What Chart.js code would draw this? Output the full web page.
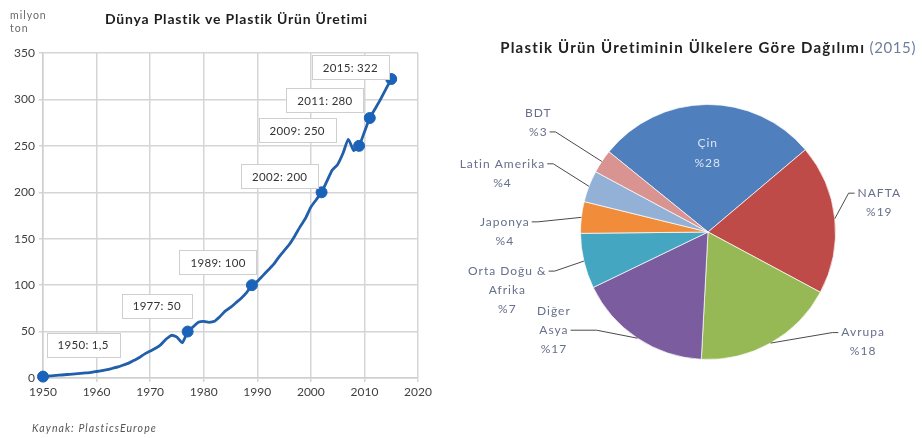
<!DOCTYPE html>
<html>
<head>
<meta charset="utf-8">
<script src="https://cdn.jsdelivr.net/npm/chart.js@4/dist/chart.umd.min.js"></script>
<style>
  html, body { margin: 0; padding: 0; background: #ffffff; }
  #wrap { position: relative; width: 922px; height: 438px; overflow: hidden; }
  #lineBox { position: absolute; left: 0; top: 0; width: 440px; height: 438px; }
  #pieBox { position: absolute; left: 440px; top: 0; width: 482px; height: 438px; }
</style>
</head>
<body>
<div id="wrap">
  <div id="lineBox"><canvas id="lineChart"></canvas></div>
  <div id="pieBox"><canvas id="pieChart"></canvas></div>
</div>
<script>
// ---- World plastics production (million tonnes), yearly ----
const years = [1950,1951,1952,1953,1954,1955,1956,1957,1958,1959,
               1960,1961,1962,1963,1964,1965,1966,1967,1968,1969,
               1970,1971,1972,1973,1974,1975,1976,1977,1978,1979,
               1980,1981,1982,1983,1984,1985,1986,1987,1988,1989,
               1990,1991,1992,1993,1994,1995,1996,1997,1998,1999,
               2000,2001,2002,2003,2004,2005,2006,2007,2008,2009,
               2010,2011,2012,2013,2014,2015];
const production = [1.5,2,2.5,3,3.5,4,4.5,5,5.5,6,
                    7,8,9,10.5,12,14,16,19,22,26,
                    29,32,36,42,46,44,38,50,55,60,
                    61,60,61,66,72,76,81,86,92,100,
                    104,110,116,122,130,137,144,153,163,172,
                    184,192,200,212,224,230,242,257,245,250,
                    265,280,290,300,311,322];

// highlighted milestones
const milestoneYears  = [1950, 1977, 1989, 2002, 2009, 2011, 2015];
const milestoneValues = [1.5, 50, 100, 200, 250, 280, 322];

const xTicks = [1950, 1960, 1970, 1980, 1990, 2000, 2010, 2020];
const yTicks = [0, 50, 100, 150, 200, 250, 300, 350];

// ---- 2015 production share by region (%) ----
const regions = ['Çin', 'NAFTA', 'Avrupa', 'Diğer\nAsya', 'Orta Doğu &\nAfrika', 'Japonya', 'Latin Amerika', 'BDT'];
const shares  = [28, 19, 18, 17, 7, 4, 4, 3];
const regionColors = ['#4f7fbc', '#bf4b48', '#96b955', '#7b5c9f', '#45a6c2', '#f08c3a', '#93b0d6', '#d99492'];

// label box placement relative to each milestone point (px)
const milestoneBoxOffsets = [[40, -32], [-31, -26], [-34, -23], [-42, -16], [-62, -16], [-45, -18], [-41, -12]];

// pie label placement relative to the slice's outer edge at mid-angle (px)
const pieLabelPlacement = [
  { inside: true, dist: 0.62 },
  { dx: 44,  dy: -16, line: 0, side: 'left' },
  { dx: 92,  dy: -1,  line: 0, side: 'left' },
  { dx: -84, dy: -8,  line: 1, side: 'right', elbow: 26 },
  { dx: -77, dy: 29,  line: 0, side: 'right' },
  { dx: -77, dy: 14,  line: 0, side: 'right' },
  { dx: -87, dy: -13, line: 0, side: 'right' },
  { dx: -64, dy: -39, line: 1, side: 'right' }
];

const FONT = 'Lato, "Open Sans", sans-serif';
const fmtTR = v => String(v).replace('.', ',');

// centred text that honours letter spacing (trailing gap removed)
function spacedText(ctx, txt, x, y, spacing, align) {
  ctx.letterSpacing = spacing + 'px';
  const w = ctx.measureText(txt).width - spacing;
  let left = x;
  if (align === 'center') left = x - w / 2;
  else if (align === 'right') left = x - w;
  ctx.textAlign = 'left';
  ctx.fillText(txt, left, y);
  ctx.letterSpacing = '0px';
  return { left, right: left + w, width: w };
}

// ---------- line chart ----------
const lineDecor = {
  id: 'lineDecor',
  afterDatasetsDraw(chart) {
    const ctx = chart.ctx;
    const xs = chart.scales.x, ys = chart.scales.y;
    ctx.save();
    ctx.font = '11.5px ' + FONT;
    ctx.textBaseline = 'middle';
    milestoneYears.forEach((yr, i) => {
      const px = xs.getPixelForValue(yr);
      const py = ys.getPixelForValue(milestoneValues[i]);
      const cx = px + milestoneBoxOffsets[i][0];
      const cy = py + milestoneBoxOffsets[i][1];
      const txt = yr + ': ' + fmtTR(milestoneValues[i]);
      ctx.letterSpacing = '0.3px';
      const w = Math.round(ctx.measureText(txt).width + 22);
      ctx.letterSpacing = '0px';
      const h = 24;
      const bx = Math.round(cx - w / 2) + 0.5, by = Math.round(cy - h / 2) + 0.5;
      ctx.fillStyle = '#ffffff';
      ctx.fillRect(bx, by, w, h);
      ctx.strokeStyle = '#cfcfcf';
      ctx.lineWidth = 1;
      ctx.strokeRect(bx, by, w, h);
      ctx.fillStyle = '#333333';
      spacedText(ctx, txt, cx, cy + 1, 0.3, 'center');
    });
    ctx.restore();
  },
  afterDraw(chart) {
    const ctx = chart.ctx;
    ctx.save();
    ctx.textBaseline = 'middle';
    ctx.fillStyle = '#1e1e1e';
    ctx.font = 'bold 14px ' + FONT;
    spacedText(ctx, 'Dünya Plastik ve Plastik Ürün Üretimi', 236, 19, 0.8, 'center');
    ctx.fillStyle = '#6a6a6a';
    ctx.font = '10.5px ' + FONT;
    spacedText(ctx, 'milyon', 10, 16, 1, 'left');
    spacedText(ctx, 'ton', 10, 29, 1, 'left');
    ctx.fillStyle = '#555555';
    ctx.font = 'italic 10.5px ' + FONT;
    spacedText(ctx, 'Kaynak: PlasticsEurope', 32, 429, 1.1, 'left');
    ctx.restore();
  }
};

new Chart(document.getElementById('lineChart'), {
  type: 'line',
  data: {
    datasets: [
      {
        data: years.map((y, i) => ({ x: y, y: production[i] })),
        borderColor: '#215fab',
        borderWidth: 2.8,
        pointRadius: 0,
        tension: 0.2,
        clip: false,
        order: 2
      },
      {
        type: 'scatter',
        data: milestoneYears.map((y, i) => ({ x: y, y: milestoneValues[i] })),
        backgroundColor: '#1b63b8',
        borderColor: '#1b63b8',
        pointRadius: 5.5,
        clip: false,
        order: 1
      }
    ]
  },
  options: {
    responsive: true,
    maintainAspectRatio: false,
    animation: false,
    events: [],
    layout: { padding: { left: 0, top: 53, right: 22, bottom: 38 } },
    plugins: { legend: { display: false }, tooltip: { enabled: false } },
    scales: {
      x: {
        type: 'linear', min: 1950, max: 2020,
        afterBuildTicks: s => { s.ticks = xTicks.map(v => ({ value: v })); },
        afterFit: s => { s.height = 22; },
        ticks: {
          color: '#404040', font: { family: FONT, size: 12 }, padding: 3,
          maxRotation: 0, autoSkip: false, callback: v => String(v)
        },
        grid: { color: '#d5d5d5', lineWidth: 1.5, tickLength: 4 },
        border: { color: '#cfcfcf', width: 1.5 }
      },
      y: {
        min: 0, max: 350,
        afterBuildTicks: s => { s.ticks = yTicks.map(v => ({ value: v })); },
        afterFit: s => { s.width = 43; },
        ticks: { color: '#404040', font: { family: FONT, size: 12 }, padding: 4, callback: v => String(v) },
        grid: { color: '#d5d5d5', lineWidth: 1.5, tickLength: 4 },
        border: { color: '#cfcfcf', width: 1.5 }
      }
    }
  },
  plugins: [lineDecor]
});

// ---------- pie chart ----------
const pieDecor = {
  id: 'pieDecor',
  afterDraw(chart) {
    const ctx = chart.ctx;
    ctx.save();
    ctx.textBaseline = 'middle';
    // title: bold part + lighter year suffix, right-aligned
    const t1 = 'Plastik Ürün Üretiminin Ülkelere Göre Dağılımı';
    const t2 = ' (2015)';
    ctx.font = '15px ' + FONT;
    ctx.letterSpacing = '0.6px';
    const w2 = ctx.measureText(t2).width;
    ctx.font = 'bold 15px ' + FONT;
    ctx.letterSpacing = '1.2px';
    const w1 = ctx.measureText(t1).width;
    const x0 = 476 - w1 - w2;
    ctx.fillStyle = '#222222';
    ctx.textAlign = 'left';
    ctx.fillText(t1, x0, 48);
    ctx.font = '15px ' + FONT;
    ctx.letterSpacing = '0.6px';
    ctx.fillStyle = '#6d7f9c';
    ctx.fillText(t2, x0 + w1, 48);
    ctx.letterSpacing = '0px';

    const meta = chart.getDatasetMeta(0);
    const lh = 19;
    const sp = 1;
    ctx.font = '12px ' + FONT;
    meta.data.forEach((arc, i) => {
      const p = pieLabelPlacement[i];
      const mid = (arc.startAngle + arc.endAngle) / 2;
      const lines = regions[i].split('\n').concat(['%' + shares[i]]);
      if (p.inside) {
        const cx = arc.x + Math.cos(mid) * arc.outerRadius * p.dist;
        const cy = arc.y + Math.sin(mid) * arc.outerRadius * p.dist;
        ctx.fillStyle = '#dbe5f3';
        lines.forEach((ln, k) => spacedText(ctx, ln, cx, cy + (k - (lines.length - 1) / 2) * (lh + 1), sp, 'center'));
        return;
      }
      const ex = arc.x + Math.cos(mid) * arc.outerRadius;
      const ey = arc.y + Math.sin(mid) * arc.outerRadius;
      const bx = ex + p.dx, by = ey + p.dy;
      ctx.fillStyle = '#66708a';
      const ys = lines.map((ln, k) => by + (k - (lines.length - 1) / 2) * lh);
      const boxes = lines.map((ln, k) => spacedText(ctx, ln, bx, ys[k], sp, 'center'));
      // leader line from the label to the slice edge
      const b = boxes[p.line];
      const ay = ys[p.line];
      const elbow = p.elbow || 6;
      let ax, elx;
      if (p.side === 'left') { ax = b.left - 3; elx = ax - elbow; }
      else { ax = b.right + 3; elx = ax + elbow; }
      ctx.strokeStyle = '#4a4a4a';
      ctx.lineWidth = 1;
      ctx.beginPath();
      ctx.moveTo(ax, ay);
      ctx.lineTo(elx, ay);
      ctx.lineTo(ex, ey);
      ctx.stroke();
    });
    ctx.restore();
  }
};

new Chart(document.getElementById('pieChart'), {
  type: 'pie',
  data: {
    labels: regions.map(r => r.replace('\n', ' ')),
    datasets: [{
      data: shares,
      backgroundColor: regionColors,
      borderColor: 'rgba(255,255,255,0.7)',
      borderWidth: 1
    }]
  },
  options: {
    responsive: true,
    maintainAspectRatio: false,
    animation: false,
    events: [],
    rotation: -51,
    layout: { padding: { left: 140, right: 86, top: 104, bottom: 78 } },
    plugins: { legend: { display: false }, tooltip: { enabled: false } }
  },
  plugins: [pieDecor]
});
</script>
</body>
</html>
